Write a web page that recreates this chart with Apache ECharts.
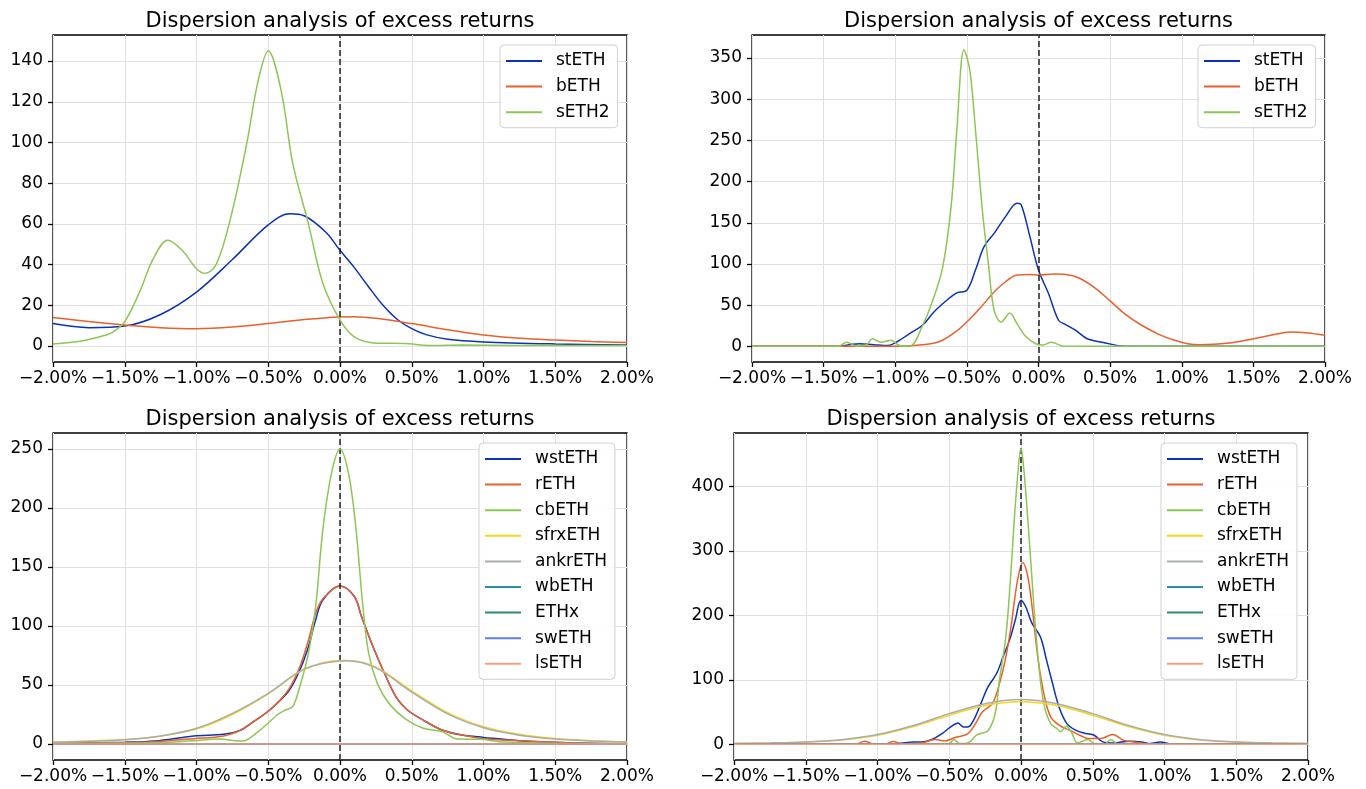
<!DOCTYPE html>
<html><head><meta charset="utf-8">
<script src="https://cdn.jsdelivr.net/npm/echarts@6/dist/echarts.min.js"></script>
<style>html,body{margin:0;padding:0;background:#fff}#c{width:1366px;height:789px}</style>
</head><body><div id="c"></div>
<script>
// ---------- text / ticks ----------
const titleText = 'Dispersion analysis of excess returns';
const xTicks = [-2, -1.5, -1, -0.5, 0, 0.5, 1, 1.5, 2];
const yTicksTL = [0, 20, 40, 60, 80, 100, 120, 140];
const yTicksTR = [0, 50, 100, 150, 200, 250, 300, 350];
const yTicksBL = [0, 50, 100, 150, 200, 250];
const yTicksBR = [0, 100, 200, 300, 400];
const zeroLine = 0;
const legendTop = ['stETH', 'bETH', 'sETH2'];
const legendBottom = ['wstETH', 'rETH', 'cbETH', 'sfrxETH', 'ankrETH', 'wbETH', 'ETHx', 'swETH', 'lsETH'];

// ---------- top-left ----------
const tlStEthX = [-2,-1.75,-1.5,-1.25,-1,-0.75,-0.5,-0.35,-0.25,-0.1,0,0.1,0.2,0.3,0.4,0.5,0.6,0.75,1,1.5,2];
const tlStEthY = [11,9,9.8,15.5,26.5,42.5,59.5,65,64,56,47,38.5,29,20,13,8.5,5.6,3.3,2,1,0.5];
const tlBEthX = [-2,-1.75,-1.5,-1.25,-1,-0.75,-0.5,-0.25,0,0.1,0.25,0.5,0.75,1,1.25,1.5,1.75,2];
const tlBEthY = [14,12,10.3,9,8.5,9.3,11,13,14.3,14.4,13.6,11,8,5.4,3.8,2.9,2.2,1.7];
const tlSEth2X = [-2,-1.8,-1.65,-1.58,-1.5,-1.4,-1.3,-1.2,-1.1,-1.0,-0.94,-0.86,-0.76,-0.65,-0.57,-0.5,-0.41,-0.33,-0.22,-0.12,0,0.1,0.25,0.45,0.63,0.85,1.2,1.6,2];
const tlSEth2Y = [1,2.5,5,7,12,26,43,52,47,38,35.7,40.5,63.5,99.5,130.5,145,125.5,90,60,31,12.8,4.5,1.4,1.2,0.2,0.5,0.3,0.3,0.2];

// ---------- top-right ----------
const trStEthX = [-2,-1.4,-1.3,-1.25,-1.15,-1.05,-0.99,-0.9,-0.81,-0.73,-0.64,-0.57,-0.5,-0.44,-0.38,-0.31,-0.23,-0.15,-0.12,-0.06,0,0.07,0.14,0.19,0.26,0.34,0.46,0.58,0.7,2];
const trStEthY = [0,0,2.5,3.2,2,1,5.3,15.4,25.6,41.8,56,65,68.2,92.6,121,137.2,157.5,173.8,171.7,133.2,92.6,64.1,31.7,26.4,19.5,9.3,4.5,0.4,0,0];
const trBEthX = [-2,-1.0,-0.87,-0.7,-0.58,-0.5,-0.41,-0.32,-0.23,-0.15,-0.06,0,0.11,0.19,0.29,0.4,0.5,0.6,0.72,0.84,0.95,1.04,1.13,1.33,1.47,1.62,1.76,1.88,2];
const trBEthY = [0,0,1,5.3,17.5,29.6,45.9,64.1,78.4,86.5,87.3,86.5,87.7,87.3,82.4,70.2,55.2,39.8,25.6,14.6,7.3,3.2,2,4,8.1,13.4,17.5,16.2,13.4];
const trSEth2X = [-2,-1.4,-1.34,-1.27,-1.2,-1.16,-1.1,-1.03,-0.97,-0.9,-0.81,-0.74,-0.67,-0.61,-0.57,-0.52,-0.48,-0.44,-0.39,-0.35,-0.31,-0.26,-0.2,-0.15,-0.09,-0.02,0.03,0.09,0.16,0.2,2];
const trSEth2Y = [0,0,4.9,0.5,2,9.3,4.9,7.3,1,0,25,55,95,170,263,359.7,336,263,161.6,100.7,43.8,29.6,40.6,27.6,12.2,3.2,1.6,4.9,0.8,0,0];

// ---------- bottom-left ----------
const blPeakX = [-2,-1.5,-1.29,-1.02,-0.81,-0.7,-0.62,-0.49,-0.36,-0.28,-0.22,-0.17,-0.12,0,0.1,0.15,0.23,0.31,0.39,0.47,0.58,0.71,0.85,1.0,1.25,1.65,2];
const blWstEthY = [0.6,1.5,2.5,6.8,8.2,11.3,17.5,28.8,44.4,62.7,82.5,105,122,134,125,108,82.5,60,40,28.8,20.3,11.9,7.6,5.6,2.8,0.8,0.3];
const blREthY = [0.6,1.2,2,4.5,6.8,11.3,17.5,28.8,45.8,65.5,88,110.7,123,134,125,108,82.5,60,40,28.8,20.3,11.9,7.6,4.5,2.8,0.8,0.3];
const blCbEthX = [-2,-1.29,-1.02,-0.84,-0.73,-0.68,-0.57,-0.49,-0.44,-0.38,-0.33,-0.28,-0.22,-0.17,-0.12,-0.06,0,0.06,0.11,0.16,0.2,0.26,0.34,0.45,0.58,0.71,0.82,0.98,1.11,1.5,2];
const blCbEthY = [0.6,1.1,2.8,4.2,2.8,2.5,10.5,18.9,24.6,28.8,31.6,48.6,76.8,116,181,229,250,229,184,116,76.8,51.4,34.5,21.8,13.3,10.5,4.2,4,2,0.6,0.3];
const blWideX = [-2,-1.75,-1.5,-1.25,-1,-0.75,-0.5,-0.25,0,0.05,0.25,0.5,0.75,1,1.25,1.5,1.75,2];
const blSfrxEthY = [1.6,2.6,3.8,6.6,12.6,25,42.5,63,70.8,70.8,65.2,45,26.6,14.6,8.2,4.6,2.8,1.8];
const blAnkrEthY = [1.4,2.3,3.6,6.8,13.3,26,43,63.5,70.3,70.5,64.5,44,25.5,13.8,7.5,4.2,2.6,1.7];
const flatX = [-2, 2];
const flatY = [0, 0];

// ---------- bottom-right ----------
const brWstEthX = [-2,-0.86,-0.75,-0.69,-0.62,-0.55,-0.49,-0.44,-0.4,-0.37,-0.33,-0.28,-0.23,-0.17,-0.125,-0.08,-0.04,0,0.033,0.077,0.135,0.178,0.22,0.265,0.32,0.38,0.45,0.51,0.57,0.64,0.76,0.84,0.9,0.97,1.05,2];
const brWstEthY = [0,1,3.6,3.6,7.3,16.6,26.9,33,26.9,26.9,37.3,63,89,109.8,135.8,161.7,192.7,223.8,213.5,187.6,166.8,130.6,94.3,58,32,21.8,16.6,14,3.6,2,4.7,3.6,1,3.6,0.5,0];
const brREthX = [-2,-1.15,-1.09,-1.03,-0.95,-0.89,-0.83,-0.78,-0.69,-0.6,-0.53,-0.46,-0.37,-0.31,-0.27,-0.2,-0.15,-0.11,-0.07,-0.024,0.013,0.048,0.077,0.12,0.164,0.207,0.265,0.337,0.41,0.467,0.554,0.64,0.713,0.785,0.87,2];
const brREthY = [0,0,4.7,0.5,0,4.1,0.5,1,2,7.3,5.2,10.4,16.6,34.7,50,63,94.3,130.6,182,255,281.9,260,213.5,130.6,73.6,42.5,29.5,21.8,14,8.8,8.8,15,6.2,3.6,1,0];
const brCbEthX = [-2,-0.6,-0.5,-0.467,-0.43,-0.37,-0.31,-0.28,-0.227,-0.18,-0.15,-0.106,-0.077,-0.05,-0.02,0,0.02,0.048,0.077,0.106,0.135,0.164,0.207,0.25,0.273,0.317,0.35,0.394,0.467,0.51,0.58,0.625,0.67,0.75,2];
const brCbEthY = [0,0,1,7.8,1,2,14,16.6,21.8,47.7,99.5,166.8,244.6,338,426,459.6,426,348,255,167,99.5,58,32,24.4,19.2,28,19.2,2,7.3,1,0,7.3,1,0,0];
const brWideX = [-2,-1.75,-1.5,-1.25,-1,-0.75,-0.5,-0.25,0,0.25,0.5,0.75,1,1.25,1.5,1.75,2];
const brSfrxEthY = [1,2,3.4,6.6,14,27.5,45,60,65.8,60,45,27.5,14,6.6,3.4,2,1];
const brAnkrEthY = [1,2,3.6,7,15,29,47.5,63,69.4,63,47.5,29,15,7,3.6,2,1];

// ---------- styling ----------
const COL = {
  stETH: '#0b32b4', bETH: '#e8612c', sETH2: '#8cc654',
  wstETH: '#0b32b4', rETH: '#e8612c', cbETH: '#8cc654', sfrxETH: '#fad41a',
  ankrETH: '#a8adb0', wbETH: '#2a90a8', ETHx: '#2e8a70', swETH: '#5b7de6', lsETH: '#f4a07c'
};
const FONT = 'DejaVu Sans';

function pts(xs, ys) { return xs.map((x, i) => [x, ys[i]]); }
function fmtX(v) {
  const a = Math.abs(v).toFixed(2) + '%';
  return v < -1e-9 ? '\u2212' + a : a;
}

const panels = [
  { grid: {left: 53, top: 35, width: 574, height: 327}, yMin: -7.86, yMax: 152.8, yTicks: yTicksTL,
    titleTop: 11, legendPos: {left: 500, top: 45}, legendNames: legendTop,
    series: [['stETH', tlStEthX, tlStEthY], ['bETH', tlBEthX, tlBEthY], ['sETH2', tlSEth2X, tlSEth2Y]] },
  { grid: {left: 752, top: 35, width: 573, height: 327}, yMin: -19, yMax: 378, yTicks: yTicksTR,
    titleTop: 11, legendPos: {left: 1198, top: 45}, legendNames: legendTop,
    series: [['stETH', trStEthX, trStEthY], ['bETH', trBEthX, trBEthY], ['sETH2', trSEth2X, trSEth2Y]] },
  { grid: {left: 53, top: 433, width: 574, height: 327}, yMin: -13.56, yMax: 263.6, yTicks: yTicksBL,
    titleTop: 409, legendPos: {left: 479, top: 443}, legendNames: legendBottom,
    series: [['wstETH', blPeakX, blWstEthY], ['rETH', blPeakX, blREthY], ['cbETH', blCbEthX, blCbEthY],
             ['sfrxETH', blWideX, blSfrxEthY], ['ankrETH', blWideX, blAnkrEthY], ['wbETH', flatX, flatY],
             ['ETHx', flatX, flatY], ['swETH', flatX, flatY], ['lsETH', flatX, flatY]] },
  { grid: {left: 734, top: 433, width: 574, height: 327}, yMin: -24.5, yMax: 483.4, yTicks: yTicksBR,
    titleTop: 409, legendPos: {left: 1161, top: 443}, legendNames: legendBottom,
    series: [['wstETH', brWstEthX, brWstEthY], ['rETH', brREthX, brREthY], ['cbETH', brCbEthX, brCbEthY],
             ['sfrxETH', brWideX, brSfrxEthY], ['ankrETH', brWideX, brAnkrEthY], ['wbETH', flatX, flatY],
             ['ETHx', flatX, flatY], ['swETH', flatX, flatY], ['lsETH', flatX, flatY]] }
];

const option = { animation: false, backgroundColor: '#fff', title: [], grid: [], xAxis: [], yAxis: [], legend: [], series: [] };

panels.forEach((p, i) => {
  option.title.push({
    text: titleText, left: p.grid.left + p.grid.width / 2, top: p.titleTop, textAlign: 'center', padding: 0,
    textStyle: {fontFamily: FONT, fontSize: 21, fontWeight: 'normal', color: '#000'}
  });
  option.grid.push(Object.assign({show: true, borderColor: '#000', borderWidth: 1.3, backgroundColor: 'transparent', containLabel: false, outerBoundsMode: 'none'}, p.grid));
  option.xAxis.push({
    type: 'value', gridIndex: i, min: -2, max: 2, interval: 0.5, position: 'bottom',
    axisLine: {show: false, onZero: false}, axisTick: {show: true, length: 5, lineStyle: {color: '#000', width: 1.3}},
    axisLabel: {formatter: fmtX, fontFamily: FONT, fontSize: 17, color: '#000', margin: 8, showMinLabel: true, showMaxLabel: true},
    splitLine: {show: true, lineStyle: {color: '#e0e0e0', width: 1}}
  });
  option.yAxis.push({
    type: 'value', gridIndex: i, min: p.yMin, max: p.yMax, position: 'left',
    axisLine: {show: false, onZero: false},
    axisTick: {show: true, length: 5, lineStyle: {color: '#000', width: 1.3}, customValues: p.yTicks},
    axisLabel: {fontFamily: FONT, fontSize: 17, color: '#000', margin: 10, customValues: p.yTicks},
    splitLine: {show: true, lineStyle: {color: '#e0e0e0', width: 1}}
  });
  option.legend.push({
    data: p.legendNames.map(n => ({name: n})), orient: 'vertical', left: p.legendPos.left, top: p.legendPos.top,
    icon: 'rect', itemWidth: 36, itemHeight: 2, itemGap: 8.6,
    padding: [7.5, 8, 7, 6], backgroundColor: 'rgba(255,255,255,0.85)', borderColor: '#d0d0d0', borderWidth: 1, borderRadius: 4,
    selectedMode: false,
    textStyle: {fontFamily: FONT, fontSize: 17, color: '#000', lineHeight: 17, padding: [0, 0, 0, 9]}
  });
  p.series.forEach((s, k) => {
    const ser = {
      type: 'line', name: s[0], xAxisIndex: i, yAxisIndex: i, data: pts(s[1], s[2]),
      showSymbol: false, smooth: 0.35, silent: true,
      color: COL[s[0]], lineStyle: {color: COL[s[0]], width: 1.5}, itemStyle: {color: COL[s[0]]},
      z: 3 + k
    };
    if (k === 0) {
      ser.markLine = {
        silent: true, symbol: ['none', 'none'], label: {show: false}, animation: false,
        lineStyle: {color: '#222', type: [6, 3], width: 1.5}, data: [{xAxis: zeroLine}]
      };
    }
    option.series.push(ser);
  });
});

const chart = echarts.init(document.getElementById('c'), null, {renderer: 'canvas', width: 1366, height: 789});
chart.setOption(option);
</script>
</body></html>
